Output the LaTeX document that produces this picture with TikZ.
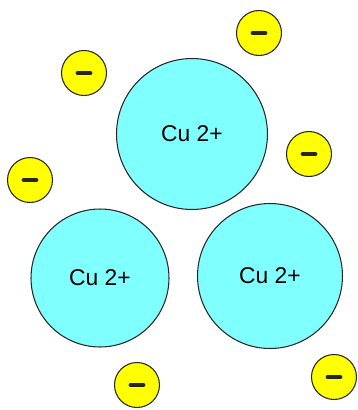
\documentclass[tikz,border=0pt]{standalone}
\usepackage{fontspec}
\setmainfont{Liberation Sans}

\definecolor{ioncyan}{HTML}{80FFFF}
\definecolor{eyellow}{HTML}{FFFF00}

% big copper ion, #1 = diameter
\tikzset{
  cuion/.style={circle, draw=black!85, line width=0.6pt, fill=ioncyan,
    inner sep=0pt, minimum size=#1, font=\fontsize{13}{15}\selectfont},
  electron/.style={circle, draw=black!85, line width=0.6pt, fill=eyellow,
    inner sep=0pt, minimum size=0.9cm,
    path picture={\draw[line width=2.8pt, line cap=round]
      ([xshift=-3.4pt]path picture bounding box.center) --
      ([xshift=3.4pt]path picture bounding box.center);}}
}

\begin{document}
\begin{tikzpicture}[x=0.02cm, y=-0.02cm]
		\useasboundingbox (0, 0) rectangle (358, 410);
		% ions
		\node[cuion=3.02cm] (cutop) at (192, 134) {Cu 2+};
		\node[cuion=2.76cm] (culeft) at (100, 278) {Cu 2+};
		\node[cuion=2.9cm] (curight) at (270, 276) {Cu 2+};
		% free electrons
		\node[electron] (e1) at (259, 33) {};
		\node[electron] (e2) at (84, 73) {};
		\node[electron] (e3) at (309, 154) {};
		\node[electron] (e4) at (30, 180) {};
		\node[electron] (e5) at (137, 385) {};
		\node[electron] (e6) at (334, 377) {};
	\end{tikzpicture}
\end{document}
